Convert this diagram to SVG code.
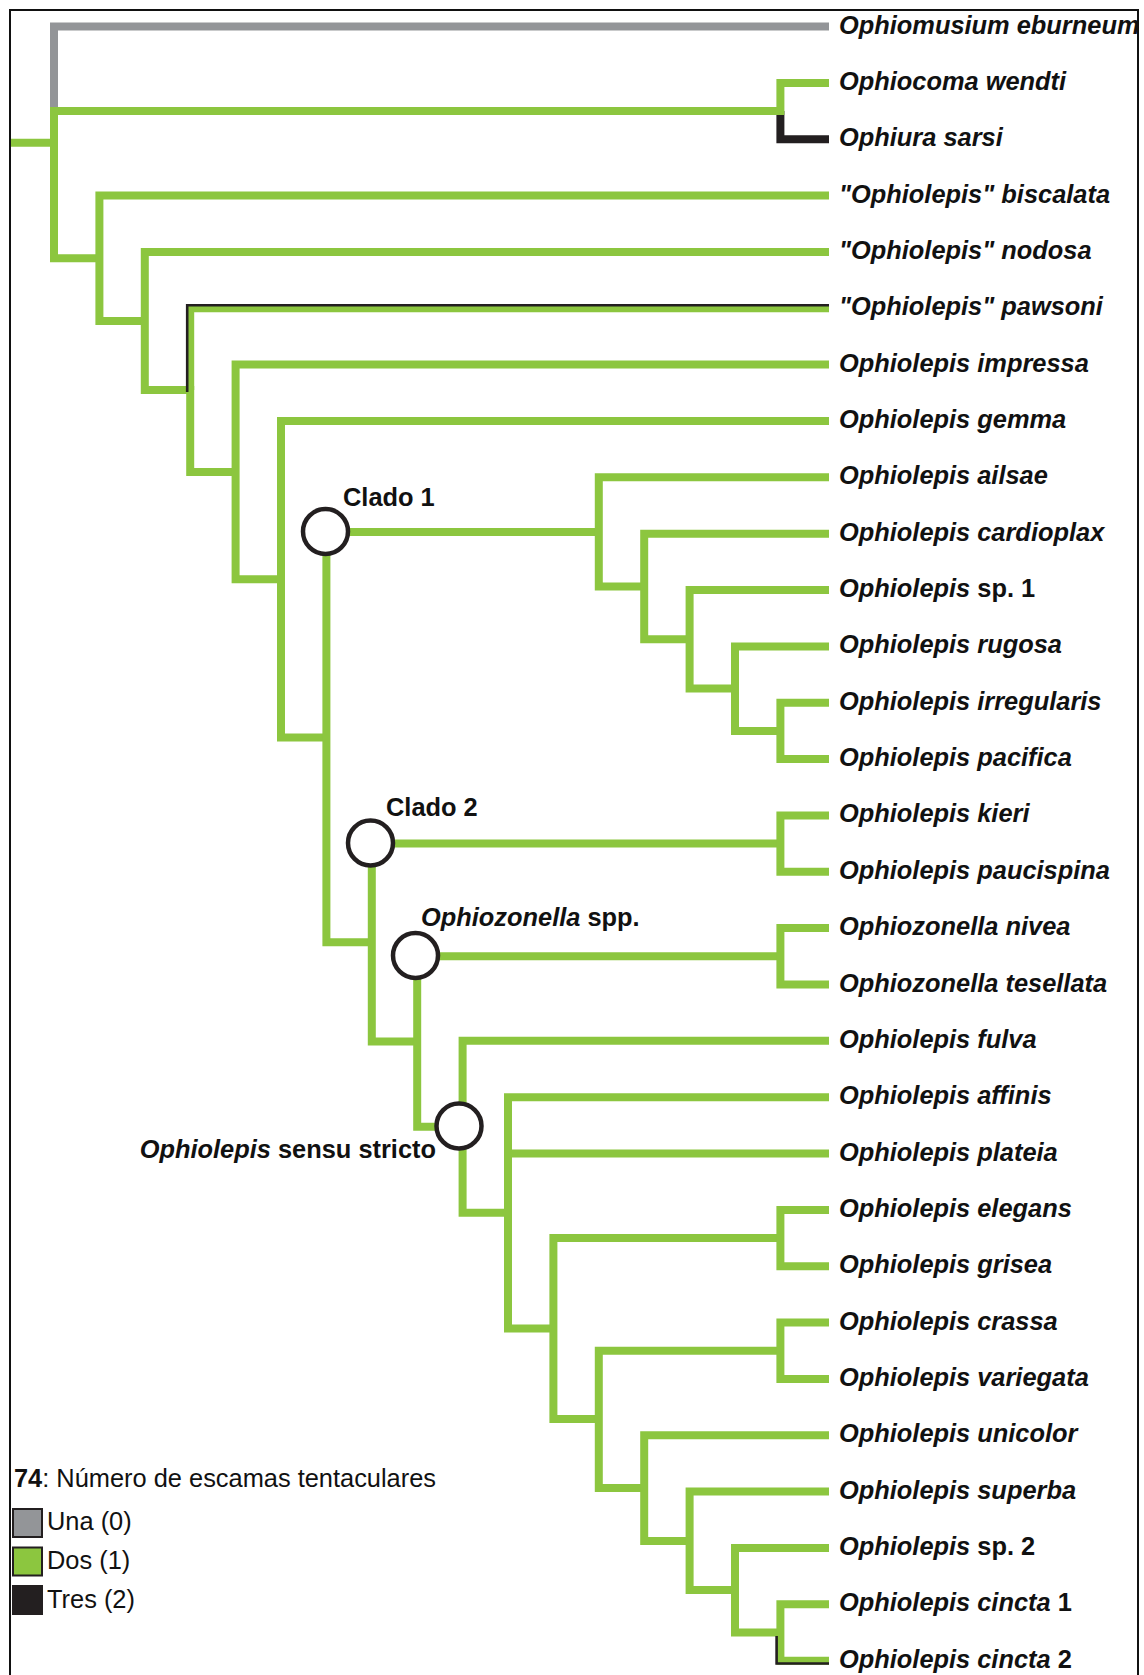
<svg xmlns="http://www.w3.org/2000/svg" width="1144" height="1675" viewBox="0 0 1144 1675">
<style>
.g{fill:none;stroke:#8cc63f;stroke-width:8;stroke-linejoin:miter;stroke-linecap:butt}
.gr{fill:none;stroke:#939598;stroke-width:8;stroke-linejoin:miter}
.bk{fill:none;stroke:#231f20;stroke-width:8;stroke-linejoin:miter}
.bt{fill:none;stroke:#231f20;stroke-width:2.6;stroke-linejoin:miter}
.node{fill:#fff;stroke:#231f20;stroke-width:4.5}
text{font-family:"Liberation Sans",Arial,Helvetica,sans-serif;font-size:25.4px;fill:#111}
.lf{font-weight:bold;font-style:italic}
.lb{font-weight:bold}
.it{font-style:italic}
.up{font-style:normal}
.sw{stroke:#231f20;stroke-width:2}
</style>
<rect x="10" y="10" width="1128" height="1672" fill="none" stroke="#111" stroke-width="2"/>
<g id="connectors">
<path class="gr" d="M829,26.5 H54 V108"/>
<path class="g" d="M11,142.8 H54"/>
<path class="g" d="M54,107 V258.3 H99.4"/>
<path class="bk" d="M780.4,111 V139.2 H829"/>
<path class="g" d="M54,111 H780.4 V82.9 H829"/>
<path class="g" d="M829,195.6 H99.4 V321 H144.8"/>
<path class="g" d="M829,251.9 H144.8 V390.1 H190.2"/>
<path class="g" d="M190.2,386 V471.9 H235.6"/>
<path class="g" d="M190.2,390 V308.3 H829"/>
<path class="bt" d="M187.2,392 V305.3 H829"/>
<path class="g" d="M829,364.6 H235.6 V579.2 H281"/>
<path class="g" d="M829,421 H281 V737.4 H326.4"/>
<path class="g" d="M598.8,531.9 H326.4 V942.2 H371.8"/>
<path class="g" d="M829,477.3 H598.8 V586.5 H644.2"/>
<path class="g" d="M829,533.7 H644.2 V639.3 H689.6"/>
<path class="g" d="M829,590 H689.6 V688.6 H735"/>
<path class="g" d="M829,646.4 H735 V730.9 H780.4"/>
<path class="g" d="M829,702.7 H780.4 V759.1 H829"/>
<path class="g" d="M780.4,843.6 H371.8 V1041.6 H417.2"/>
<path class="g" d="M829,815.4 H780.4 V871.8 H829"/>
<path class="g" d="M780.4,956.3 H417.2 V1126.8 H462.6"/>
<path class="g" d="M829,928.1 H780.4 V984.5 H829"/>
<path class="g" d="M829,1040.8 H462.6 V1212.8 H508"/>
<path class="g" d="M829,1097.2 H508 V1328.5 H553.4"/>
<path class="g" d="M508,1153.5 H829"/>
<path class="g" d="M780.4,1238 H553.4 V1419 H598.8"/>
<path class="g" d="M829,1209.9 H780.4 V1266.2 H829"/>
<path class="g" d="M780.4,1350.7 H598.8 V1488 H644.2"/>
<path class="g" d="M829,1322.6 H780.4 V1378.9 H829"/>
<path class="g" d="M829,1435.3 H644.2 V1541 H689.6"/>
<path class="g" d="M829,1491.6 H689.6 V1590 H735"/>
<path class="g" d="M829,1548 H735 V1632.5 H780.4"/>
<path class="g" d="M829,1604.3 H780.4 V1660.7 H829"/>
<path class="bt" d="M776.6,1636 V1663.5 H829"/>
</g>
<g id="clado1"><circle class="node" cx="325.5" cy="531.5" r="22.5"/><text class="lb" x="343" y="506">Clado 1</text></g>
<g id="clado2"><circle class="node" cx="370.5" cy="843" r="22.5"/><text class="lb" x="386" y="816">Clado 2</text></g>
<g id="ophiozonella"><circle class="node" cx="415.5" cy="955.5" r="22.5"/><text class="lb" x="421" y="926"><tspan class="it">Ophiozonella</tspan> spp.</text></g>
<g id="oss"><circle class="node" cx="459" cy="1126" r="22.5"/><text class="lb" x="436" y="1158" text-anchor="end"><tspan class="it">Ophiolepis</tspan> sensu stricto</text></g>
<g id="leaves">
<text class="lf" x="839" y="33.5">Ophiomusium eburneum</text>
<text class="lf" x="839" y="89.9">Ophiocoma wendti</text>
<text class="lf" x="839" y="146.2">Ophiura sarsi</text>
<text class="lf" x="839" y="202.6">"Ophiolepis" biscalata</text>
<text class="lf" x="839" y="258.9">"Ophiolepis" nodosa</text>
<text class="lf" x="839" y="315.3">"Ophiolepis" pawsoni</text>
<text class="lf" x="839" y="371.6">Ophiolepis impressa</text>
<text class="lf" x="839" y="428">Ophiolepis gemma</text>
<text class="lf" x="839" y="484.3">Ophiolepis ailsae</text>
<text class="lf" x="839" y="540.7">Ophiolepis cardioplax</text>
<text class="lf" x="839" y="597">Ophiolepis<tspan class="up"> sp. 1</tspan></text>
<text class="lf" x="839" y="653.4">Ophiolepis rugosa</text>
<text class="lf" x="839" y="709.7">Ophiolepis irregularis</text>
<text class="lf" x="839" y="766.1">Ophiolepis pacifica</text>
<text class="lf" x="839" y="822.4">Ophiolepis kieri</text>
<text class="lf" x="839" y="878.8">Ophiolepis paucispina</text>
<text class="lf" x="839" y="935.1">Ophiozonella nivea</text>
<text class="lf" x="839" y="991.5">Ophiozonella tesellata</text>
<text class="lf" x="839" y="1047.8">Ophiolepis fulva</text>
<text class="lf" x="839" y="1104.2">Ophiolepis affinis</text>
<text class="lf" x="839" y="1160.5">Ophiolepis plateia</text>
<text class="lf" x="839" y="1216.9">Ophiolepis elegans</text>
<text class="lf" x="839" y="1273.2">Ophiolepis grisea</text>
<text class="lf" x="839" y="1329.6">Ophiolepis crassa</text>
<text class="lf" x="839" y="1385.9">Ophiolepis variegata</text>
<text class="lf" x="839" y="1442.3">Ophiolepis unicolor</text>
<text class="lf" x="839" y="1498.6">Ophiolepis superba</text>
<text class="lf" x="839" y="1555">Ophiolepis<tspan class="up"> sp. 2</tspan></text>
<text class="lf" x="839" y="1611.3">Ophiolepis cincta<tspan class="up"> 1</tspan></text>
<text class="lf" x="839" y="1667.7">Ophiolepis cincta<tspan class="up"> 2</tspan></text>
</g>
<g id="legend">
<text x="14" y="1487"><tspan class="lb">74</tspan>: Número de escamas tentaculares</text>
<rect class="sw" x="13" y="1509" width="29" height="28" fill="#939598"/>
<text x="47" y="1530">Una (0)</text>
<rect class="sw" x="13" y="1547.5" width="29" height="28" fill="#8cc63f"/>
<text x="47" y="1569">Dos (1)</text>
<rect class="sw" x="13" y="1586" width="29" height="28" fill="#231f20"/>
<text x="47" y="1608">Tres (2)</text>
</g>
</svg>
